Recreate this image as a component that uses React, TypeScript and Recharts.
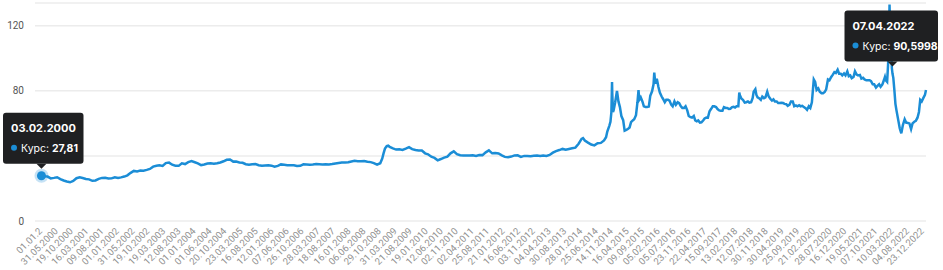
import { LineChart, Line, XAxis, YAxis, CartesianGrid, ReferenceDot } from 'recharts';

// Курс по датам
const rates2000s: [string, number][] = [
  ['2000-01-01', 27.2], ['2000-02-03', 27.81], ['2000-03-01', 27.5], ['2000-04-01', 27.3], ['2000-05-01', 26.2], ['2000-06-01', 26.5],
  ['2000-07-01', 26.9], ['2000-08-01', 25.8], ['2000-09-01', 24.9], ['2000-10-01', 24.3], ['2000-11-01', 23.8], ['2000-12-01', 24.6],
  ['2001-01-01', 26.3], ['2001-02-01', 26.8], ['2001-03-01', 26.4], ['2001-04-01', 25.8], ['2001-05-01', 25.6], ['2001-06-01', 24.7],
  ['2001-07-01', 24.9], ['2001-08-01', 25.9], ['2001-09-01', 26.5], ['2001-10-01', 26.6], ['2001-11-01', 26.1], ['2001-12-01', 26.2],
  ['2002-01-01', 26.9], ['2002-02-01', 26.4], ['2002-03-01', 26.8], ['2002-04-01', 27.3], ['2002-05-01', 28.1], ['2002-06-01', 29.6],
  ['2002-07-01', 30.8], ['2002-08-01', 30.5], ['2002-09-01', 31.0], ['2002-10-01', 30.9], ['2002-11-01', 31.4], ['2002-12-01', 32.0],
  ['2003-01-01', 33.4], ['2003-02-01', 34.0], ['2003-03-01', 34.2], ['2003-04-01', 33.8], ['2003-05-01', 35.6], ['2003-06-01', 35.9],
  ['2003-07-01', 34.6], ['2003-08-01', 34.0], ['2003-09-01', 33.9], ['2003-10-01', 35.5], ['2003-11-01', 35.0], ['2003-12-01', 36.2],
  ['2004-01-01', 36.8], ['2004-02-01', 36.1], ['2004-03-01', 35.4], ['2004-04-01', 34.3], ['2004-05-01', 34.7], ['2004-06-01', 35.3],
  ['2004-07-01', 35.5], ['2004-08-01', 35.2], ['2004-09-01', 35.5], ['2004-10-01', 36.0], ['2004-11-01', 36.7], ['2004-12-01', 37.6],
  ['2005-01-01', 37.8], ['2005-02-01', 36.5], ['2005-03-01', 36.6], ['2005-04-01', 36.0], ['2005-05-01', 35.8], ['2005-06-01', 34.9],
  ['2005-07-01', 34.6], ['2005-08-01', 34.9], ['2005-09-01', 35.0], ['2005-10-01', 34.3], ['2005-11-01', 33.9], ['2005-12-01', 34.1],
  ['2006-01-01', 34.2], ['2006-02-01', 34.0], ['2006-03-01', 33.4], ['2006-04-01', 33.9], ['2006-05-01', 34.8], ['2006-06-01', 34.6],
  ['2006-07-01', 34.3], ['2006-08-01', 34.2], ['2006-09-01', 34.3], ['2006-10-01', 33.8], ['2006-11-01', 33.9], ['2006-12-01', 34.8],
  ['2007-01-01', 34.7], ['2007-02-01', 34.6], ['2007-03-01', 34.7], ['2007-04-01', 35.0], ['2007-05-01', 34.9], ['2007-06-01', 34.8],
  ['2007-07-01', 34.9], ['2007-08-01', 34.8], ['2007-09-01', 35.0], ['2007-10-01', 35.4], ['2007-11-01', 35.7], ['2007-12-01', 36.0],
  ['2008-01-01', 35.9], ['2008-02-01', 36.1], ['2008-03-01', 36.6], ['2008-04-01', 37.0], ['2008-05-01', 36.8], ['2008-06-01', 36.7],
  ['2008-07-01', 36.9], ['2008-08-01', 36.4], ['2008-09-01', 36.2], ['2008-10-01', 35.6], ['2008-11-01', 34.6], ['2008-12-01', 35.5],
  ['2008-12-20', 38.4], ['2009-01-01', 41.4], ['2009-01-15', 44.5], ['2009-02-01', 46.0], ['2009-02-15', 46.3], ['2009-03-01', 45.6],
  ['2009-04-01', 44.6], ['2009-05-01', 43.9], ['2009-06-01', 44.1], ['2009-07-01', 43.7], ['2009-08-01', 44.5], ['2009-09-01', 45.4],
  ['2009-10-01', 44.2], ['2009-11-01', 43.6], ['2009-12-01', 43.4],
];

const rates2010s: [string, number][] = [
  ['2010-01-01', 43.3], ['2010-02-01', 41.6], ['2010-03-01', 41.0], ['2010-04-01', 39.5], ['2010-05-01', 38.8], ['2010-06-01', 37.3],
  ['2010-07-01', 38.1], ['2010-08-01', 39.0], ['2010-09-01', 39.6], ['2010-10-01', 41.6], ['2010-11-01', 42.8], ['2010-12-01', 41.1],
  ['2011-01-01', 40.4], ['2011-02-01', 40.2], ['2011-03-01', 40.3], ['2011-04-01', 40.2], ['2011-05-01', 40.4], ['2011-06-01', 40.0],
  ['2011-07-01', 40.6], ['2011-08-01', 40.5], ['2011-09-01', 42.2], ['2011-10-01', 43.4], ['2011-11-01', 41.6], ['2011-12-01', 41.8],
  ['2012-01-01', 41.5], ['2012-02-01', 40.3], ['2012-03-01', 39.4], ['2012-04-01', 39.2], ['2012-05-01', 39.6], ['2012-06-01', 40.3],
  ['2012-07-01', 40.4], ['2012-08-01', 39.4], ['2012-09-01', 40.0], ['2012-10-01', 40.0], ['2012-11-01', 39.8], ['2012-12-01', 40.1],
  ['2013-01-01', 40.2], ['2013-02-01', 39.9], ['2013-03-01', 40.3], ['2013-04-01', 40.0], ['2013-05-01', 40.6], ['2013-06-01', 42.0],
  ['2013-07-01', 43.0], ['2013-08-01', 43.6], ['2013-09-01', 44.3], ['2013-10-01', 43.8], ['2013-11-01', 44.3], ['2013-12-01', 44.7],
  ['2014-01-01', 45.1], ['2014-02-01', 47.5], ['2014-03-01', 50.5], ['2014-03-15', 51.0], ['2014-04-01', 49.5], ['2014-05-01', 48.2],
  ['2014-06-01', 47.0], ['2014-07-01', 46.5], ['2014-08-01', 47.8], ['2014-09-01', 48.0], ['2014-10-01', 49.5], ['2014-10-20', 51.5],
  ['2014-11-01', 55.0], ['2014-11-20', 58.5], ['2014-12-01', 61.0], ['2014-12-10', 67.0], ['2014-12-16', 85.5], ['2014-12-18', 79.0],
  ['2014-12-25', 67.0],
  ['2015-01-01', 68.3], ['2015-01-15', 73.0], ['2015-02-01', 80.0], ['2015-02-15', 73.5], ['2015-03-01', 70.0], ['2015-03-15', 64.5],
  ['2015-04-01', 62.0], ['2015-04-15', 55.5], ['2015-05-01', 56.0], ['2015-05-15', 56.5], ['2015-06-01', 57.5], ['2015-06-15', 60.8],
  ['2015-07-01', 61.8], ['2015-07-15', 62.5], ['2015-08-01', 65.0], ['2015-08-15', 73.0], ['2015-08-25', 80.5], ['2015-09-01', 74.5],
  ['2015-09-15', 76.0], ['2015-10-01', 73.5], ['2015-10-15', 70.5], ['2015-11-01', 70.0], ['2015-11-15', 70.0], ['2015-12-01', 70.3],
  ['2015-12-15', 77.0],
  ['2016-01-01', 79.7], ['2016-01-15', 84.0], ['2016-01-22', 91.2], ['2016-02-01', 84.5], ['2016-02-15', 87.5], ['2016-03-01', 82.5],
  ['2016-03-15', 79.0], ['2016-04-01', 76.5], ['2016-04-15', 75.0], ['2016-05-01', 73.0], ['2016-05-15', 74.5], ['2016-06-01', 74.5],
  ['2016-06-15', 74.0], ['2016-07-01', 71.5], ['2016-07-15', 70.5], ['2016-08-01', 73.5], ['2016-08-15', 71.5], ['2016-09-01', 73.0],
  ['2016-09-15', 72.5], ['2016-10-01', 70.5], ['2016-10-15', 69.5], ['2016-11-01', 69.5], ['2016-11-15', 70.5], ['2016-12-01', 68.0],
  ['2016-12-15', 64.5],
  ['2017-01-01', 63.8], ['2017-01-15', 63.5], ['2017-02-01', 64.5], ['2017-02-15', 61.8], ['2017-03-01', 61.3], ['2017-03-15', 61.8],
  ['2017-04-01', 60.5], ['2017-04-15', 60.6], ['2017-05-01', 61.8], ['2017-05-15', 63.0], ['2017-06-01', 63.6], ['2017-06-15', 63.5],
  ['2017-07-01', 67.5], ['2017-07-15', 68.8], ['2017-08-01', 70.5], ['2017-08-15', 70.5], ['2017-09-01', 70.0], ['2017-09-15', 68.8],
  ['2017-10-01', 68.0], ['2017-10-15', 67.8], ['2017-11-01', 67.8], ['2017-11-15', 70.0], ['2017-12-01', 69.5], ['2017-12-15', 69.5],
  ['2018-01-01', 68.9], ['2018-01-15', 69.0], ['2018-02-01', 70.0], ['2018-02-15', 70.2], ['2018-03-01', 69.8], ['2018-03-15', 70.5],
  ['2018-04-01', 70.5], ['2018-04-10', 79.0], ['2018-04-15', 77.5], ['2018-05-01', 75.2], ['2018-05-15', 74.5], ['2018-06-01', 72.8],
  ['2018-06-15', 73.0], ['2018-07-01', 73.5], ['2018-07-15', 72.8], ['2018-08-01', 73.0], ['2018-08-15', 75.5], ['2018-08-25', 79.5],
  ['2018-09-10', 81.0], ['2018-09-20', 77.5], ['2018-10-01', 76.0], ['2018-10-15', 75.5], ['2018-11-01', 74.5], ['2018-11-15', 76.5],
  ['2018-12-01', 75.5], ['2018-12-15', 76.0],
  ['2019-01-01', 79.5], ['2019-01-15', 76.5], ['2019-02-01', 75.0], ['2019-02-15', 74.0], ['2019-03-01', 74.8], ['2019-03-15', 73.5],
  ['2019-04-01', 73.5], ['2019-04-15', 72.5], ['2019-05-01', 72.5], ['2019-05-15', 72.7], ['2019-06-01', 72.5], ['2019-06-15', 72.0],
  ['2019-07-01', 71.8], ['2019-07-15', 70.8], ['2019-08-01', 71.5], ['2019-08-15', 73.5], ['2019-09-01', 73.5], ['2019-09-15', 70.5],
  ['2019-10-01', 71.0], ['2019-10-15', 70.5], ['2019-11-01', 71.2], ['2019-11-15', 70.5], ['2019-12-01', 70.8], ['2019-12-15', 70.0],
];

const rates2020s: [string, number][] = [
  ['2020-01-01', 69.3], ['2020-01-15', 68.3], ['2020-02-01', 70.5], ['2020-02-15', 69.5], ['2020-03-01', 73.0], ['2020-03-10', 80.0],
  ['2020-03-19', 87.0], ['2020-04-01', 85.5], ['2020-04-15', 80.5], ['2020-05-01', 81.5], ['2020-05-15', 79.5], ['2020-06-01', 78.5],
  ['2020-06-15', 78.5], ['2020-07-01', 79.3], ['2020-07-15', 81.0], ['2020-08-01', 87.0], ['2020-08-15', 86.5], ['2020-09-01', 88.5],
  ['2020-09-15', 89.8], ['2020-10-01', 91.5], ['2020-10-15', 91.0], ['2020-11-01', 93.0], ['2020-11-15', 90.5], ['2020-12-01', 90.5],
  ['2020-12-15', 89.5],
  ['2021-01-01', 90.7], ['2021-01-15', 89.5], ['2021-02-01', 92.0], ['2021-02-15', 89.0], ['2021-03-01', 89.5], ['2021-03-15', 87.8],
  ['2021-04-01', 88.5], ['2021-04-15', 92.0], ['2021-05-01', 90.0], ['2021-05-15', 89.5], ['2021-06-01', 89.8], ['2021-06-15', 87.5],
  ['2021-07-01', 88.0], ['2021-07-15', 87.0], ['2021-08-01', 86.5], ['2021-08-15', 86.5], ['2021-09-01', 86.5], ['2021-09-15', 86.0],
  ['2021-10-01', 84.0], ['2021-10-15', 84.0], ['2021-11-01', 82.0], ['2021-11-15', 83.0], ['2021-12-01', 84.0], ['2021-12-15', 82.5],
  ['2022-01-01', 84.0], ['2022-01-15', 86.5], ['2022-01-25', 88.5], ['2022-02-01', 86.5], ['2022-02-15', 85.5], ['2022-02-24', 96.0],
  ['2022-03-01', 105.0], ['2022-03-05', 115.0], ['2022-03-10', 133.0], ['2022-03-15', 118.0], ['2022-03-22', 110.0], ['2022-04-01', 94.0],
  ['2022-04-07', 90.5998], ['2022-04-15', 88.0], ['2022-04-25', 80.5], ['2022-05-05', 72.0], ['2022-05-15', 68.0], ['2022-06-01', 62.0],
  ['2022-06-15', 57.0], ['2022-06-30', 53.9], ['2022-07-15', 59.0], ['2022-08-01', 62.5], ['2022-08-15', 60.5], ['2022-09-01', 60.3],
  ['2022-09-15', 60.0], ['2022-10-01', 56.5], ['2022-10-15', 60.0], ['2022-11-01', 61.0], ['2022-11-15', 61.5], ['2022-12-01', 63.5],
  ['2022-12-15', 67.0], ['2022-12-27', 74.5],
  ['2023-01-10', 73.5], ['2023-01-25', 75.5], ['2023-02-10', 77.5], ['2023-02-20', 80.5],
];

const tickDates = [
  '01.01.2000', '31.05.2000', '19.10.2000', '16.03.2001', '09.08.2001', '01.01.2002', '31.05.2002', '19.10.2002',
  '19.03.2003', '12.08.2003', '01.01.2004', '01.06.2004', '20.10.2004', '23.03.2005', '16.08.2005', '12.01.2006',
  '07.06.2006', '26.10.2006', '28.03.2007', '18.08.2007', '16.01.2008', '06.06.2008', '29.10.2008', '31.03.2009',
  '21.08.2009', '19.01.2010', '12.06.2010', '02.11.2010', '02.04.2011', '25.08.2011', '21.01.2012', '16.06.2012',
  '03.11.2012', '04.04.2013', '30.08.2013', '28.01.2014', '25.06.2014', '14.11.2014', '16.04.2015', '09.09.2015',
  '05.02.2016', '05.07.2016', '23.11.2016', '22.04.2017', '15.09.2017', '13.02.2018', '12.07.2018', '30.11.2018',
  '30.04.2019', '25.09.2019', '21.02.2020', '28.07.2020', '16.12.2020', '19.05.2021', '07.10.2021', '10.03.2022',
  '04.08.2022', '23.12.2022',
];

const yTicks = [0, 40, 80, 120];

const callouts = [
  { date: '2000-02-03', value: 27.81, title: '03.02.2000', text: '27,81', halo: true },
  { date: '2022-04-07', value: 90.5998, title: '07.04.2022', text: '90,5998', halo: false },
];

const BLUE = '#1b8dd6';

const isoTs = (s: string) => {
  const [y, m, d] = s.split('-').map(Number);
  return Date.UTC(y, m - 1, d);
};
const ruTs = (s: string) => {
  const [d, m, y] = s.split('.').map(Number);
  return Date.UTC(y, m - 1, d);
};

const chartData = [...rates2000s, ...rates2010s, ...rates2020s].map(([date, rate]) => ({
  t: isoTs(date),
  rate,
}));
const ticks = tickDates.map(ruTs);
const tickLabel = new Map(tickDates.map((d, i) => [ticks[i], i === 0 ? d.slice(0, 7) : d]));

function Callout({ cx, cy, title, text, halo }: any) {
  const w = 48 + text.length * 6.5;
  const h = 51;
  const bx = Math.min(Math.max(cx - w / 2, 3), 938 - w);
  const by = cy - 12 - h;
  return (
    <g style={{ fontFamily: 'Inter, Roboto, sans-serif' }}>
      {halo && (
        <>
          <circle cx={cx} cy={cy} r={7} fill={BLUE} fillOpacity={0.25} />
          <circle cx={cx} cy={cy} r={4.5} fill={BLUE} />
        </>
      )}
      <rect x={bx} y={by} width={w} height={h} rx={3} fill="#1f2022" />
      <path d={`M${cx - 5},${by + h} L${cx + 5},${by + h} L${cx},${by + h + 5} Z`} fill="#1f2022" />
      <text x={bx + 8} y={by + 19} fill="#fff" fontSize={11} fontWeight={700}>
        {title}
      </text>
      <circle cx={bx + 11} cy={by + 35} r={3} fill={BLUE} />
      <text x={bx + 18} y={by + 39} fill="#fff" fontSize={10.5}>
        Курс: <tspan fontWeight={700}>{text}</tspan>
      </text>
    </g>
  );
}

export default function App() {
  return (
    <div style={{ position: 'fixed', left: 0, top: 0, background: '#fff', fontFamily: 'Roboto, sans-serif' }}>
      <LineChart width={943} height={270} data={chartData} margin={{ top: 3, right: 17, left: 5, bottom: 0 }}>
        <CartesianGrid vertical={false} stroke="#ececec" strokeWidth={1.5} />
        <XAxis
          dataKey="t"
          type="number"
          domain={['dataMin', 'dataMax']}
          ticks={ticks}
          interval={0}
          tickFormatter={(v) => tickLabel.get(v) ?? ''}
          angle={-45}
          textAnchor="end"
          axisLine={false}
          tickLine={false}
          tickMargin={0}
          height={49}
          padding={{ left: 3, right: 0 }}
          tick={{ fill: '#8f8f8f', fontSize: 9.5 }}
        />
        <YAxis
          domain={[0, 134]}
          allowDataOverflow
          ticks={yTicks}
          interval={0}
          axisLine={false}
          tickLine={false}
          tickMargin={5}
          width={30}
          tick={{ fill: '#555', fontSize: 10 }}
        />
        <Line
          type="linear"
          dataKey="rate"
          stroke={BLUE}
          strokeWidth={2.5}
          dot={false}
          activeDot={false}
          isAnimationActive={false}
        />
        {callouts.map((c) => (
          <ReferenceDot
            key={c.date}
            x={isoTs(c.date)}
            y={c.value}
            ifOverflow="visible"
            zIndex={2000}
            shape={(p: any) => <Callout {...p} title={c.title} text={c.text} halo={c.halo} />}
          />
        ))}
      </LineChart>
    </div>
  );
}
